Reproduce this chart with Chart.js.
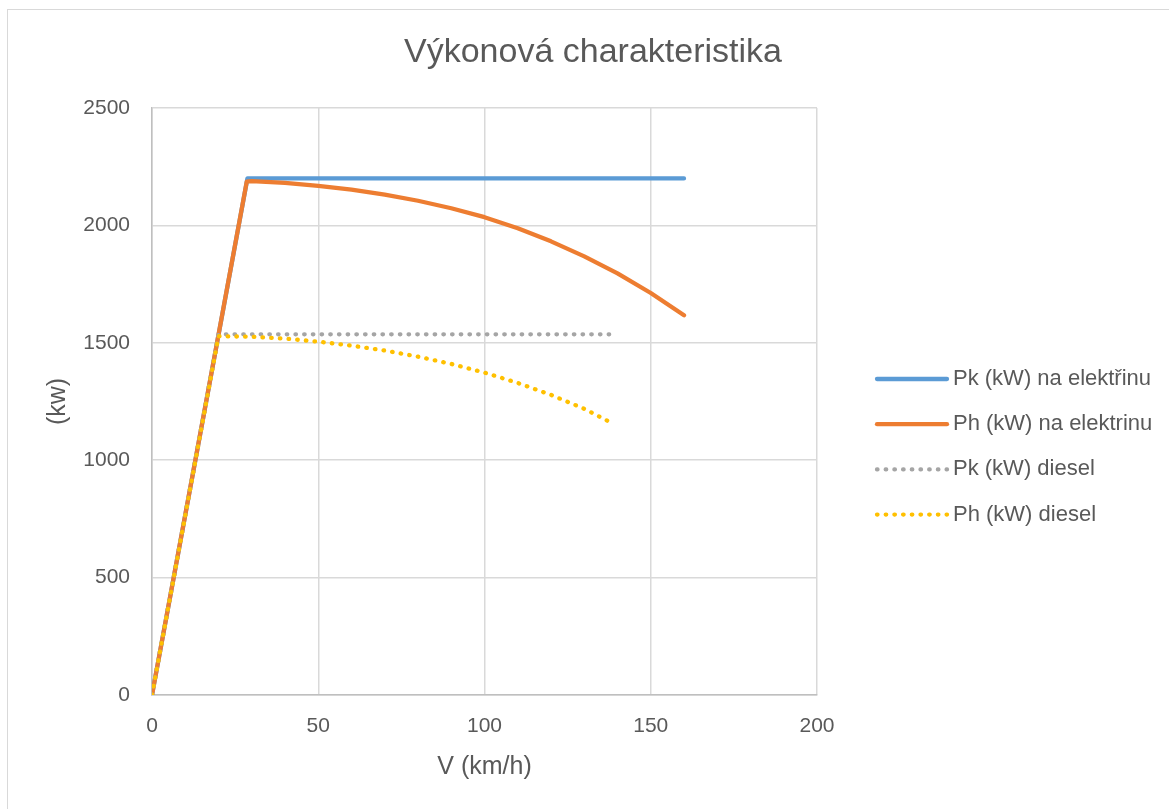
<!DOCTYPE html>
<html><head><meta charset="utf-8">
<script src="https://cdn.jsdelivr.net/npm/chart.js@4/dist/chart.umd.min.js"></script>
<style>
html,body{margin:0;padding:0;background:#fff;}
#wrap{position:relative;width:1169px;height:809px;overflow:hidden;}
#frame{position:absolute;left:7px;top:9px;width:1175px;height:900px;border:1.5px solid #d9d9d9;box-sizing:border-box;pointer-events:none;}
canvas{display:block;}
</style></head><body>
<div id="wrap"><canvas id="c" width="1169" height="809"></canvas><div id="frame"></div></div>
<script>
const chartTitle = 'Výkonová charakteristika';
const xAxisTitle = 'V (km/h)';
const yAxisTitle = '(kw)';
const seriesNames = ['Pk (kW) na elektřinu', 'Ph (kW) na elektrinu', 'Pk (kW) diesel', 'Ph (kW) diesel'];
const seriesColors = ['#5B9BD5', '#ED7D31', '#A5A5A5', '#FFC000'];

const pkElecV = [0, 28.7, 160];
const pkElecP = [0, 2200, 2200];
const phElecV = [0, 28.5, 30, 40, 50, 60, 70, 80, 90, 100, 110, 120, 130, 140, 150, 160];
const phElecP = [0, 2186, 2189, 2181, 2168, 2152, 2131, 2105, 2073, 2035, 1988, 1932, 1868, 1796, 1712, 1617];
const pkDieselV = [0, 20, 139];
const pkDieselP = [0, 1536, 1536];
const phDieselV = [0, 20, 30, 40, 50, 60, 70, 80, 90, 100, 110, 120, 130, 139];
const phDieselP = [0, 1528, 1526, 1518, 1505, 1488, 1467, 1441, 1410, 1373, 1329, 1278, 1219, 1153];

const xTicks = [0, 50, 100, 150, 200];
const yTicks = [0, 500, 1000, 1500, 2000, 2500];

const FONT = "'Liberation Sans', Arial, sans-serif";
const TEXT = '#595959';
Chart.defaults.font.family = FONT;
Chart.defaults.color = TEXT;

function pts(xs, ys) { return xs.map((x, i) => ({x: x, y: ys[i]})); }

const solid = [];
const dotted = [0.5, 8.2];

const datasets = [
  {label: seriesNames[0], data: pts(pkElecV, pkElecP), borderColor: seriesColors[0], borderDash: solid, order: 3},
  {label: seriesNames[1], data: pts(phElecV, phElecP), borderColor: seriesColors[1], borderDash: solid, order: 2},
  {label: seriesNames[2], data: pts(pkDieselV, pkDieselP), borderColor: seriesColors[2], borderDash: dotted, order: 1},
  {label: seriesNames[3], data: pts(phDieselV, phDieselP), borderColor: seriesColors[3], borderDash: dotted, order: 0}
].map(d => Object.assign(d, {
  showLine: true, pointRadius: 0, pointHoverRadius: 0, borderWidth: 4.3,
  borderCapStyle: 'round', borderJoinStyle: 'round', tension: 0, fill: false,
  backgroundColor: d.borderColor
}));

const customLegend = {
  id: 'customLegend',
  afterDraw(chart) {
    const ctx = chart.ctx;
    const x0 = 877, x1 = 947, tx = 953, y0 = 379, dy = 45.2;
    chart.data.datasets.forEach((ds, i) => {
      const y = y0 + i * dy;
      ctx.save();
      ctx.strokeStyle = ds.borderColor;
      ctx.lineWidth = ds.borderWidth;
      ctx.lineCap = 'round';
      ctx.setLineDash(ds.borderDash || []);
      ctx.beginPath();
      ctx.moveTo(x0, y);
      ctx.lineTo(x1, y);
      ctx.stroke();
      ctx.setLineDash([]);
      ctx.fillStyle = TEXT;
      ctx.font = '22px ' + FONT;
      ctx.textBaseline = 'middle';
      ctx.textAlign = 'left';
      ctx.fillText(ds.label, tx, y);
      ctx.restore();
    });
  }
};

new Chart(document.getElementById('c'), {
  type: 'scatter',
  data: {datasets: datasets},
  plugins: [customLegend],
  options: {
    responsive: false,
    animation: false,
    devicePixelRatio: 1,
    layout: {padding: {left: 17, right: 0, top: 0, bottom: 0}},
    plugins: {
      legend: {display: false},
      tooltip: {enabled: false},
      title: {
        display: true, text: chartTitle, color: TEXT,
        font: {family: FONT, size: 34, weight: 'normal'},
        padding: {top: 32, bottom: 35.2}
      }
    },
    scales: {
      x: {
        type: 'linear', position: 'bottom', min: 0, max: 200,
        afterBuildTicks: s => { s.ticks = xTicks.map(v => ({value: v})); },
        afterFit: s => { s.height = 114; },
        ticks: {padding: 19, font: {size: 21}, color: TEXT, maxRotation: 0, autoSkip: false,
                callback: v => String(v)},
        grid: {color: '#d9d9d9', lineWidth: 1.5, drawTicks: false},
        border: {color: '#bfbfbf', width: 1.5},
        title: {display: true, text: xAxisTitle, color: TEXT, font: {size: 25}, padding: {top: 0, bottom: 27}}
      },
      y: {
        type: 'linear', position: 'left', min: 0, max: 2500,
        afterBuildTicks: s => { s.ticks = yTicks.map(v => ({value: v})); },
        afterFit: s => { s.width = 135; },
        ticks: {padding: 22, font: {size: 21}, color: TEXT, autoSkip: false,
                callback: v => String(v)},
        grid: {color: '#d9d9d9', lineWidth: 1.5, drawTicks: false},
        border: {color: '#bfbfbf', width: 1.5},
        title: {display: true, text: yAxisTitle, color: TEXT, font: {size: 25}, padding: {top: 26, bottom: 0}}
      },
      legendSpace: {
        type: 'linear', position: 'right', display: true,
        afterFit: s => { s.width = 352; },
        ticks: {display: false},
        grid: {display: false, drawTicks: false},
        border: {display: false}
      }
    }
  }
});
</script>
</body></html>
